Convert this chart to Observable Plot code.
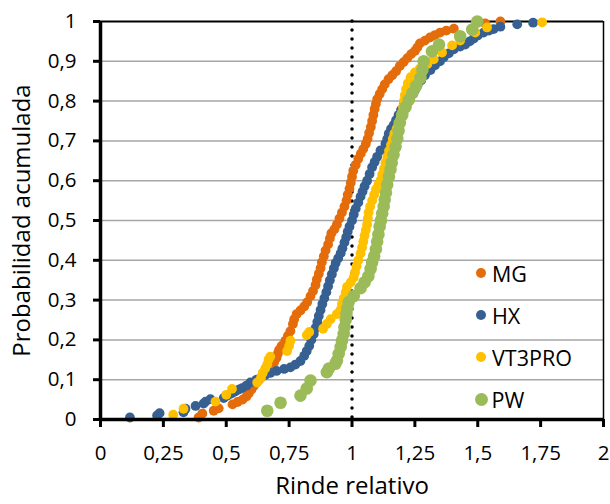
<!DOCTYPE html>
<html>
<head>
<meta charset="utf-8">
<script src="https://cdn.jsdelivr.net/npm/d3@7"></script>
<script src="https://cdn.jsdelivr.net/npm/@observablehq/plot@0.6"></script>
<style>
  html, body { margin: 0; padding: 0; background: #fff; }
  #wrap { position: relative; width: 610px; height: 504px; font-family: "Open Sans", sans-serif; }
  #legend { position: absolute; left: 0; top: 0; }
  .li { position: absolute; display: flex; align-items: center; font-size: 21.5px; color: #000; }
  .li span.m { display: inline-block; border-radius: 50%; }
</style>
</head>
<body>
<div id="wrap"><div id="chart"></div><div id="legend"></div></div>
<script>
const seriesNames = ["MG", "HX", "VT3PRO", "PW"];
const seriesColors = ["#E46C0A", "#376092", "#FFC000", "#9BBB59"];
const xTicks = [0, 0.25, 0.5, 0.75, 1, 1.25, 1.5, 1.75, 2];
const yTicks = [0, 0.1, 0.2, 0.3, 0.4, 0.5, 0.6, 0.7, 0.8, 0.9, 1];
const refLine = [1];

const MG = [[0.39,0.005],[0.405,0.015],[0.45,0.022],[0.47,0.028],[0.525,0.038],[0.545,0.044],[0.565,0.05],[0.58,0.058],[0.59,0.066],[0.60,0.075],[0.61,0.085],[0.62,0.093],[0.63,0.10],[0.645,0.11],[0.66,0.122],[0.675,0.132],[0.69,0.143],[0.70,0.155],[0.705,0.165],[0.71,0.175],[0.72,0.185],[0.735,0.198],[0.745,0.21],[0.755,0.222],[0.765,0.24],[0.77,0.252],[0.78,0.265],[0.795,0.274],[0.81,0.284],[0.822,0.295],[0.835,0.31],[0.845,0.323],[0.855,0.338],[0.86,0.352],[0.868,0.366],[0.875,0.38],[0.88,0.395],[0.888,0.41],[0.895,0.425],[0.905,0.44],[0.912,0.455],[0.918,0.468],[0.93,0.478],[0.94,0.49],[0.95,0.505],[0.96,0.52],[0.97,0.535],[0.978,0.55],[0.983,0.565],[0.99,0.58],[0.995,0.595],[1.0,0.61],[1.005,0.625],[1.015,0.64],[1.025,0.655],[1.035,0.668],[1.045,0.68],[1.055,0.693],[1.062,0.705],[1.068,0.72],[1.075,0.735],[1.08,0.75],[1.085,0.765],[1.09,0.78],[1.095,0.793],[1.10,0.805],[1.11,0.818],[1.12,0.83],[1.13,0.842],[1.145,0.855],[1.16,0.865],[1.175,0.875],[1.19,0.888],[1.205,0.898],[1.22,0.908],[1.235,0.918],[1.25,0.926],[1.26,0.935],[1.27,0.945],[1.29,0.952],[1.31,0.96],[1.33,0.966],[1.35,0.972],[1.375,0.977],[1.405,0.982],[1.53,0.995],[1.59,1.0]];

const HX = [[0.117,0.005],[0.225,0.01],[0.235,0.016],[0.33,0.018],[0.338,0.027],[0.378,0.034],[0.41,0.04],[0.418,0.045],[0.437,0.051],[0.49,0.054],[0.505,0.06],[0.52,0.065],[0.535,0.07],[0.55,0.075],[0.563,0.079],[0.58,0.085],[0.596,0.093],[0.62,0.1],[0.64,0.106],[0.655,0.112],[0.675,0.117],[0.70,0.122],[0.73,0.127],[0.755,0.131],[0.775,0.138],[0.795,0.147],[0.81,0.16],[0.82,0.172],[0.83,0.185],[0.838,0.2],[0.848,0.215],[0.855,0.23],[0.862,0.245],[0.868,0.26],[0.875,0.275],[0.882,0.29],[0.89,0.305],[0.898,0.32],[0.905,0.335],[0.912,0.35],[0.92,0.365],[0.928,0.38],[0.935,0.393],[0.945,0.405],[0.955,0.418],[0.962,0.43],[0.97,0.445],[0.977,0.458],[0.983,0.472],[0.99,0.485],[1.0,0.5],[1.007,0.515],[1.015,0.53],[1.025,0.545],[1.034,0.56],[1.042,0.573],[1.05,0.586],[1.06,0.6],[1.07,0.617],[1.08,0.634],[1.09,0.647],[1.10,0.66],[1.113,0.676],[1.133,0.693],[1.14,0.705],[1.146,0.718],[1.155,0.73],[1.166,0.74],[1.175,0.752],[1.185,0.765],[1.195,0.778],[1.206,0.79],[1.22,0.803],[1.235,0.815],[1.25,0.828],[1.26,0.84],[1.275,0.852],[1.29,0.865],[1.312,0.878],[1.33,0.89],[1.35,0.9],[1.365,0.91],[1.385,0.92],[1.405,0.93],[1.43,0.937],[1.45,0.942],[1.468,0.95],[1.484,0.957],[1.5,0.965],[1.523,0.972],[1.545,0.977],[1.563,0.981],[1.59,0.987],[1.657,0.993],[1.72,0.997]];

const VT3PRO = [[0.289,0.012],[0.33,0.027],[0.457,0.045],[0.50,0.062],[0.523,0.077],[0.623,0.093],[0.638,0.105],[0.645,0.117],[0.655,0.128],[0.663,0.138],[0.668,0.15],[0.675,0.158],[0.742,0.172],[0.75,0.185],[0.755,0.198],[0.82,0.212],[0.83,0.22],[0.885,0.228],[0.9,0.24],[0.915,0.252],[0.94,0.265],[0.954,0.275],[0.96,0.29],[0.967,0.305],[0.975,0.32],[0.98,0.333],[0.995,0.345],[1.007,0.357],[1.012,0.37],[1.018,0.385],[1.025,0.4],[1.034,0.417],[1.04,0.432],[1.045,0.447],[1.05,0.462],[1.055,0.476],[1.06,0.49],[1.063,0.505],[1.066,0.52],[1.072,0.535],[1.08,0.55],[1.088,0.565],[1.095,0.578],[1.105,0.59],[1.113,0.6],[1.12,0.615],[1.127,0.63],[1.133,0.645],[1.14,0.66],[1.147,0.675],[1.155,0.69],[1.162,0.705],[1.168,0.718],[1.177,0.73],[1.185,0.742],[1.193,0.755],[1.198,0.77],[1.203,0.785],[1.206,0.80],[1.21,0.815],[1.215,0.83],[1.222,0.845],[1.233,0.86],[1.25,0.872],[1.27,0.882],[1.3,0.893],[1.325,0.905],[1.358,0.922],[1.398,0.94],[1.43,0.952],[1.49,0.972],[1.537,0.985],[1.756,0.998]];

const PW = [[0.663,0.022],[0.716,0.042],[0.795,0.06],[0.82,0.078],[0.835,0.098],[0.90,0.119],[0.908,0.128],[0.934,0.14],[0.94,0.148],[0.947,0.165],[0.955,0.182],[0.96,0.198],[0.967,0.215],[0.97,0.232],[0.975,0.25],[0.978,0.265],[0.982,0.28],[0.987,0.295],[1.007,0.31],[1.034,0.33],[1.05,0.345],[1.065,0.36],[1.074,0.378],[1.08,0.395],[1.088,0.41],[1.095,0.428],[1.1,0.447],[1.105,0.465],[1.11,0.485],[1.115,0.5],[1.12,0.518],[1.126,0.535],[1.13,0.552],[1.135,0.57],[1.14,0.59],[1.147,0.61],[1.153,0.628],[1.158,0.645],[1.165,0.665],[1.173,0.685],[1.18,0.705],[1.185,0.725],[1.19,0.745],[1.2,0.765],[1.213,0.785],[1.226,0.803],[1.24,0.82],[1.255,0.838],[1.272,0.858],[1.28,0.878],[1.285,0.9],[1.318,0.925],[1.346,0.942],[1.43,0.963],[1.478,0.98],[1.498,1.0]];

const seriesData = [MG, HX, VT3PRO, PW];
const dotRadius = [4.9, 4.9, 4.9, 6.3];

const fmt = d => String(d).replace(".", ",");

const dotMarks = seriesData.map((arr, i) =>
  Plot.dot(arr, {x: d => d[0], y: d => d[1], r: dotRadius[i], fill: seriesColors[i], stroke: "none"})
);

const chart = Plot.plot({
  width: 610,
  height: 504,
  marginLeft: 100,
  marginRight: 7,
  marginTop: 21,
  marginBottom: 85,
  style: {fontFamily: "Open Sans, sans-serif", background: "#fff", overflow: "visible"},
  x: {domain: [0, 2]},
  y: {domain: [0, 1]},
  marks: [
    Plot.ruleY(yTicks.filter(v => v > 0 && v < 1), {stroke: "#a6a6a6", strokeWidth: 1.5}),
    Plot.ruleY([1], {stroke: "#000", strokeWidth: 2}),
    Plot.ruleX([2], {stroke: "#000", strokeWidth: 1.5}),
    Plot.ruleX(refLine, {stroke: "#000", strokeWidth: 3.5, strokeDasharray: "0,9", strokeLinecap: "round"}),
    ...dotMarks,
    Plot.axisY({ticks: yTicks, tickFormat: fmt, tickSize: 7, tickPadding: 17, strokeWidth: 3, fontSize: 20.5, label: null}),
    Plot.axisX({ticks: xTicks, tickFormat: fmt, tickSize: 8, tickPadding: 18, strokeWidth: 3, fontSize: 20.5, label: null}),
    Plot.ruleX([0], {stroke: "#000", strokeWidth: 3.5}),
    Plot.ruleY([0], {stroke: "#000", strokeWidth: 3.5}),
    Plot.text(["Probabilidad acumulada"], {frameAnchor: "left", dx: -78, rotate: -90, textAnchor: "middle", fontSize: 24, fill: "#000", text: d => d}),
    Plot.text(["Rinde relativo"], {frameAnchor: "bottom", dy: 74, fontSize: 24, fill: "#000", text: d => d})
  ]
});
document.getElementById("chart").appendChild(chart);

const legendTops = [273, 315, 357, 399];
const legend = document.getElementById("legend");
seriesNames.forEach((name, i) => {
  const row = document.createElement("div");
  row.className = "li";
  const sz = i === 3 ? 13 : 10;
  row.style.left = (481 - sz / 2) + "px";
  row.style.top = (legendTops[i] - 15) + "px";
  row.style.height = "30px";
  const m = document.createElement("span");
  m.className = "m";
  m.style.width = sz + "px";
  m.style.height = sz + "px";
  m.style.background = seriesColors[i];
  m.style.marginRight = (i === 3 ? 4 : 6) + "px";
  const t = document.createElement("span");
  t.textContent = name;
  row.appendChild(m);
  row.appendChild(t);
  legend.appendChild(row);
});
</script>
</body>
</html>
